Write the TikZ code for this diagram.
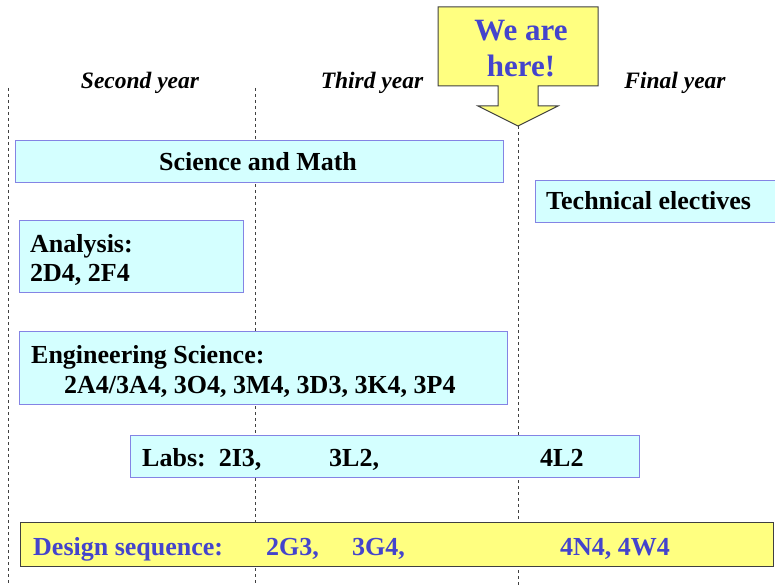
\documentclass[tikz,border=0pt]{standalone}
\usepackage{fontspec}
\setmainfont{Liberation Serif}
\usetikzlibrary{positioning}

\definecolor{boxfill}{HTML}{D4FFFF}
\definecolor{boxline}{HTML}{8484E4}
\definecolor{hereyellow}{HTML}{FFFF80}
\definecolor{heretext}{HTML}{4444CC}

\begin{document}
\begin{tikzpicture}[x=1pt,y=-1pt,
    yearline/.style={draw=black!75, line width=0.8pt, dash pattern=on 3pt off 3pt},
    yearlabel/.style={font=\fontsize{23.5}{27}\selectfont\bfseries\itshape, anchor=base},
    course/.style={shape=rectangle, draw=boxline, fill=boxfill, line width=1pt, anchor=north west, inner sep=0pt},
    design/.style={shape=rectangle, draw=black!75, fill=hereyellow, line width=1pt, anchor=north west, inner sep=0pt},
    txt/.style={font=\fontsize{26}{30}\selectfont\bfseries, anchor=base west, inner sep=0pt},
    bluetxt/.style={txt, text=heretext}]
        \useasboundingbox (0,0) rectangle (775,585);

        % year columns
        \coordinate (L1) at (8,88);
        \coordinate (L2) at (255,88);
        \coordinate (tip) at (518,126);
        \draw[yearline] (L1) -- (8,585);
        \draw[yearline] (L2) -- (255,585);
        \draw[yearline] (tip) -- (518,585);

        \node[yearlabel] (second) at (140,89) {Second year};
        \node[yearlabel] (third)  at (372,89) {Third year};
        \node[yearlabel] (final)  at (675,89) {Final year};

        % we are here
        \draw[draw=black!75, fill=hereyellow, line width=1pt]
            (438,7) -- (598,7) -- (598,86) -- (538,86) -- (538,106) -- (558,106)
            -- (tip) -- (478,106) -- (498,106) -- (498,86) -- (438,86) -- cycle;
        \node[font=\fontsize{31}{36}\selectfont\bfseries, text=heretext, align=center] (here) at (521,49) {We are\\here!};

        % courses
        \node[course, minimum width=488, minimum height=42] (sciBox) at (15,140) {};
        \node[txt, anchor=base] (sci) at (258,171) {Science and Math};

        \node[course, minimum width=240, minimum height=42] (techBox) at (535,180) {};
        \node[txt] (tech) at (546,210) {Technical electives};

        \node[course, minimum width=224, minimum height=72] (anaBox) at (19,220) {};
        \node[txt] (ana) at (30,252) {Analysis:};
        \node[txt] (anaCodes) at (30,281) {2D4, 2F4};

        \node[course, minimum width=488, minimum height=73] (engBox) at (19,331) {};
        \node[txt] (eng) at (31,363) {Engineering Science:};
        \node[txt] (engCodes) at (64,393) {2A4/3A4, 3O4, 3M4, 3D3, 3K4, 3P4};

        \node[course, minimum width=509, minimum height=42] (labBox) at (130,435) {};
        \node[txt] (labs) at (142,466) {Labs:\ \ 2I3,};
        \node[txt] (labThird) at (329,466) {3L2,};
        \node[txt] (labFinal) at (540,466) {4L2};

        \node[design, minimum width=753, minimum height=44] (desBox) at (20,522) {};
        \node[bluetxt] (des) at (33,555) {Design sequence:};
        \node[bluetxt] (desSecond) at (266,555) {2G3,};
        \node[bluetxt] (desThird) at (352,555) {3G4,};
        \node[bluetxt] (desFinal) at (560,555) {4N4, 4W4};
    \end{tikzpicture}
\end{document}
